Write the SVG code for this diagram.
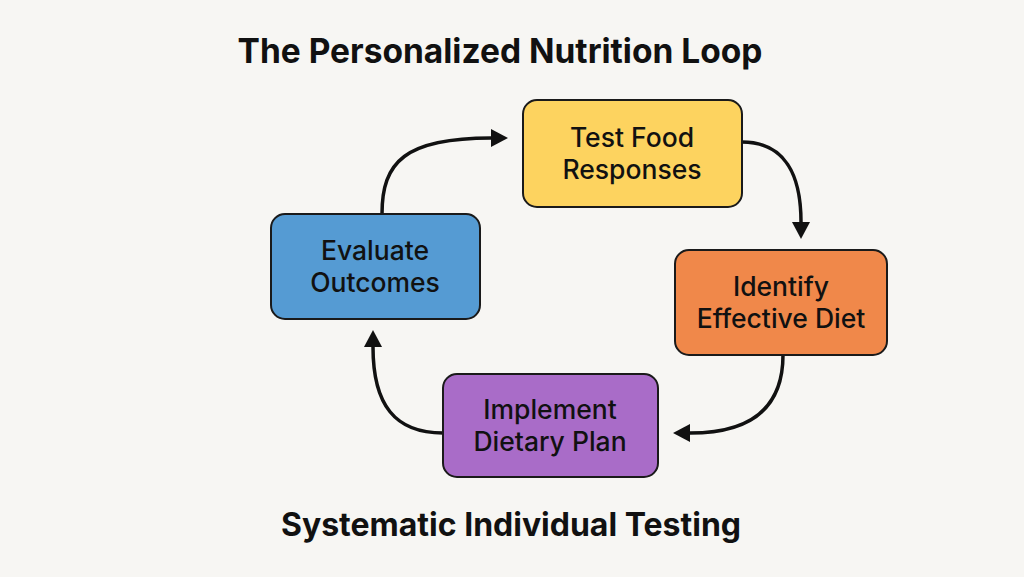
<svg xmlns="http://www.w3.org/2000/svg" width="1024" height="577" viewBox="0 0 1024 577">
  <defs>
    <marker id="ah" markerUnits="userSpaceOnUse" markerWidth="20" markerHeight="20" refX="0" refY="9" orient="auto">
      <path d="M0,0 L17,9 L0,18 z" fill="#111"/>
    </marker>
    <style>
      .box { stroke: #1a1a1a; stroke-width: 2; }
      .lbl { font-family: Inter, "Liberation Sans", sans-serif; font-weight: 500; font-size: 26.5px; fill: #111; text-anchor: middle; }
      .ttl { font-family: Inter, "Liberation Sans", sans-serif; font-weight: 700; fill: #111; text-anchor: middle; }
      .conn { fill: none; stroke: #111; stroke-width: 3.5; marker-end: url(#ah); }
    </style>
  </defs>
  <rect width="1024" height="577" fill="#f7f6f3"/>
  <text class="ttl" x="500" y="63" font-size="33.5">The Personalized Nutrition Loop</text>
  <text class="ttl" x="511" y="536" font-size="32">Systematic Individual Testing</text>

  <g id="connectors">
    <path class="conn" d="M382,214 C382,162 405,138 491,138"/>
    <path class="conn" d="M742,142 C785,142 801,175 801,222"/>
    <path class="conn" d="M783,355 C783,410 748,433 690,433"/>
    <path class="conn" d="M443,433 C395,433 373,405 373,347"/>
  </g>

  <g id="test">
    <rect class="box" x="523" y="100" width="219" height="107" rx="14" fill="#fdd35f"/>
    <text class="lbl" x="632" y="147">Test Food</text>
    <text class="lbl" x="632" y="179">Responses</text>
  </g>
  <g id="identify">
    <rect class="box" x="675" y="250" width="212" height="105" rx="14" fill="#f0884a"/>
    <text class="lbl" x="781" y="296">Identify</text>
    <text class="lbl" x="781" y="328">Effective Diet</text>
  </g>
  <g id="implement">
    <rect class="box" x="443" y="374" width="215" height="103" rx="14" fill="#a96cc8"/>
    <text class="lbl" x="550" y="419">Implement</text>
    <text class="lbl" x="550" y="451">Dietary Plan</text>
  </g>
  <g id="evaluate">
    <rect class="box" x="271" y="214" width="209" height="105" rx="14" fill="#559bd3"/>
    <text class="lbl" x="375" y="260">Evaluate</text>
    <text class="lbl" x="375" y="292">Outcomes</text>
  </g>
</svg>
